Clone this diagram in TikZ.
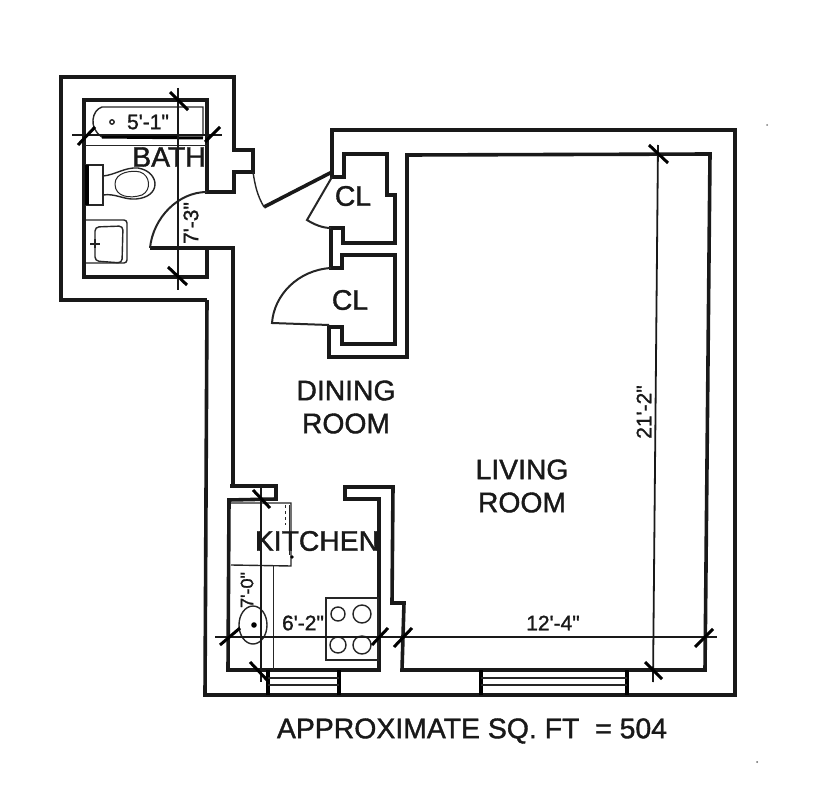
\documentclass[tikz,border=0pt]{standalone}
\usepackage{fontspec}
\setmainfont{Liberation Sans}
\newfontfamily\planfont[FakeBold=1.3]{Liberation Sans}
\tikzset{
  wall/.style={draw=black!90,line width=3.6pt,line join=miter},
  fixture/.style={draw=black!85,line width=1.4pt},
  thinline/.style={draw=black!85,line width=1.0pt},
  dimline/.style={draw=black!90,line width=1.8pt},
  tick/.style={draw=black,line width=3pt},
  room/.style={font=\planfont\fontsize{28.3}{33}\selectfont,text=black!90,align=center,inner sep=0pt},
  dimtext/.style={font=\planfont\fontsize{21}{24}\selectfont,text=black!90,inner sep=0pt},
}
\begin{document}
\begin{tikzpicture}[x=1pt,y=-1pt]
\useasboundingbox[fill=white] (0,0) rectangle (831,800);
% outer and bath walls
\draw[wall] (207,300) -- (61,300) -- (61,77) -- (234,77) -- (234,150) -- (253,150) -- (253,172) -- (234,172) -- (234,192) -- (207,192) -- (207,100) -- (84,100) -- (84,277) -- (207,277) -- (207,248);
\draw[wall] (150,248) -- (233,248) -- (233,487);
\draw[wall] (207,300) -- (205,695) -- (735,695) -- (735,130) -- (332,130) -- (332,177) -- (344,177) -- (344,154) -- (387,154) -- (387,195) -- (395,195) -- (395,243) -- (343,243) -- (343,228) -- (331,228) -- (331,268) -- (342,268) -- (342,255) -- (395,255) -- (395,344) -- (342,344) -- (342,327) -- (329,327) -- (329,357) -- (407,357) -- (407,155) -- (710,154) -- (705,670) -- (402,670) -- (404,603) -- (392,603) -- (393,487) -- (345,487) -- (345,499) -- (379,499) -- (379,670) -- (228,670) -- (229,500) -- (276,499) -- (276,486) -- (230,486);
% doors
\draw[wall] (332,172) -- (264,207);
\draw[fixture] (264,207) .. controls (257,195) and (255,185) .. (253,172);
\draw[fixture,line width=2pt] (332,177) -- (307,220) .. controls (315,225) and (323,228) .. (331,228);
\draw[fixture,line width=2pt] (331,268) .. controls (298,270) and (274,295) .. (272,323) -- (329,325);
\draw[fixture,line width=2pt] (207,192) .. controls (178,192) and (153,218) .. (150,248);
% windows
\foreach \a/\b in {268/339,481/627}{
  \draw[line width=3.4pt] (\a,670) -- (\a,695) (\b,670) -- (\b,695);
  \draw[draw=black!85,line width=1.5pt] (\a,678) -- (\b,678) (\a,685) -- (\b,685);
}
% tub
\draw[fixture] (203,136) -- (203,107) -- (102,107) .. controls (92,110) and (88,128) .. (102,137);
\draw[line width=3pt] (102,137) -- (203,138);
\draw[thinline] (85,145) -- (207,145);
\draw[fixture] (112,122) circle (2.2);
% toilet
\draw[fixture] (86,165) rectangle (103,205);
\draw[line width=4pt] (87,165) -- (87,205);
\draw[fixture] (103,176) .. controls (115,175) and (125,167) .. (138,168) .. controls (150,170) and (155,178) .. (155,184) .. controls (155,192) and (148,198) .. (136,199) .. controls (124,200) and (115,193) .. (103,195);
\draw[thinline] (115,184) .. controls (115,172) and (132,170) .. (140,172) .. controls (150,175) and (152,190) .. (142,195) .. controls (130,199) and (115,197) .. (115,184);
% sink
\draw[fixture,rounded corners=3pt] (86,220) -- (127,220) -- (127,263) -- (86,263);
\draw[fixture,rounded corners=4pt] (95,227) -- (123,226) -- (122,263) -- (95,261) -- cycle;
\draw[fixture,line width=2pt] (90,244) -- (100,244) (95,239) -- (95,248);
% kitchen fixtures
\draw[fixture] (231,503) -- (291,503) -- (291,566) -- (231,565);
\draw[thinline,dashed] (285,505) -- (285,525);
\draw[thinline] (289,505) -- (289,555);
\fill (292,557) circle (1.8);
\draw[thinline] (273,565) -- (273,670);
\draw[fixture] (253,625) ellipse (14 and 19);
\fill (254,625) circle (2.8);
\draw[fixture] (326,598) rectangle (378,660);
\draw[fixture] (338,614) circle (7);
\draw[fixture] (362,614) circle (9);
\draw[fixture] (338,645) circle (8);
\draw[fixture] (362,645) circle (9);
% dimensions
\draw[dimline] (178,88) -- (178,290);
\draw[dimline] (72,135) -- (222,135);
\draw[dimline] (261,488) -- (261,682);
\draw[dimline] (215,637) -- (717,637);
\draw[dimline] (658,145) -- (653,682);
\draw[tick] (170,92) -- (188,110);
\draw[tick] (168,267) -- (187,285);
\draw[tick] (78,145) -- (95,127);
\draw[tick] (205,142) -- (220,127);
\draw[tick] (253,490) -- (270,508);
\draw[tick] (250,662) -- (267,680);
\draw[tick] (220,645) -- (240,628);
\draw[tick] (372,645) -- (388,628);
\draw[tick] (394,647) -- (412,628);
\draw[tick] (695,647) -- (713,629);
\draw[tick] (645,662) -- (662,679);
\draw[tick] (649,145) -- (668,163);
% labels
\node[room] (bath) at (169,157) {BATH};
\node[room] (cla) at (353,196) {CL};
\node[room] (clb) at (350,300) {CL};
\node[room] (dining) at (346,407) {DINING\\ROOM};
\node[room] (living) at (522,486) {LIVING\\ROOM};
\node[room] (kitchen) at (317,541) {KITCHEN};
\node[dimtext] (dtub) at (148,122) {5'-1"};
\node[dimtext,rotate=90] (dbath) at (191,223) {7'-3"};
\node[dimtext,rotate=90,font=\planfont\fontsize{18}{20}\selectfont] (dkit) at (247,590) {7'-0"};
\node[dimtext] (dkw) at (303,623) {6'-2"};
\node[dimtext] (dlw) at (553,623) {12'-4"};
\node[dimtext,rotate=90] (dll) at (644,412) {21'-2"};
\node[font=\planfont\fontsize{28.4}{32}\selectfont,text=black!90,inner sep=0pt] (area) at (472,731) {APPROXIMATE SQ. FT \ = 504};
% specks
\fill[black!50] (767,125) circle (1);
\fill[black!60] (757,762) circle (1);
\end{tikzpicture}
\end{document}
